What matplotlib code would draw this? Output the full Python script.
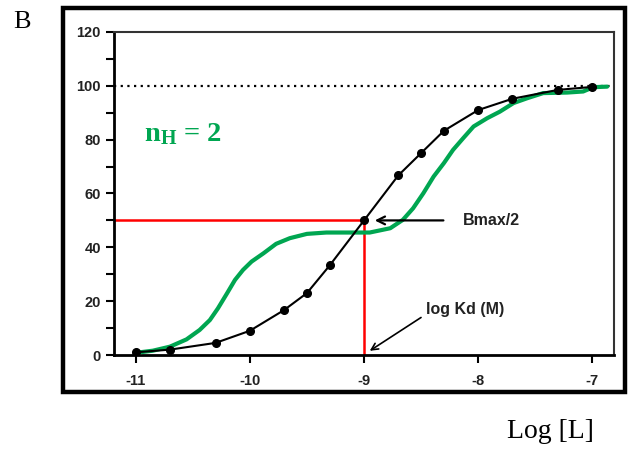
import numpy as np
import matplotlib.pyplot as plt
from matplotlib.patches import Rectangle
from matplotlib.ticker import MultipleLocator

plt.rcParams["mathtext.fontset"] = "custom"
plt.rcParams["mathtext.rm"] = "Liberation Serif:bold"
plt.rcParams["mathtext.bf"] = "Liberation Serif:bold"
plt.rcParams["mathtext.it"] = "Liberation Serif:bold"

# one-site binding curve (black points)
log_l = [-11, -10.7, -10.3, -10, -9.7, -9.5, -9.3, -9, -8.7, -8.5, -8.3, -8, -7.7, -7.3, -7]
bound = [1, 2, 4.5, 9, 16.7, 23, 33.3, 50, 66.7, 75, 83.3, 91, 95.2, 98.5, 99.6]

# two-step curve (nH = 2)
green_x = [-11, -10.965, -10.85, -10.70, -10.555, -10.44, -10.35, -10.28, -10.20, -10.13,
           -10.06, -9.985, -9.88, -9.77, -9.65, -9.50, -9.33, -9.21, -8.95, -8.77, -8.66,
           -8.57, -8.48, -8.39, -8.30, -8.22, -8.13, -8.04, -7.92, -7.81, -7.69, -7.57,
           -7.43, -7.22, -7.08, -6.99, -6.87]
green_y = [0.9, 1.0, 1.6, 3.1, 5.8, 9.3, 13.0, 17.3, 22.9, 27.9,
           31.6, 34.7, 37.8, 41.3, 43.4, 45.0, 45.5, 45.5, 45.5, 47.1, 50.2,
           54.5, 60.1, 66.3, 71.3, 76.2, 80.6, 84.9, 88.0, 90.4, 93.6, 95.4,
           97.3, 97.5, 97.9, 99.5, 99.7]

kd = -9
half = 50
bmax = 100

fig = plt.figure(figsize=(6.32, 4.5), dpi=100)
ax = fig.add_axes([0.1804, 0.2111, 0.7911, 0.7178])

ax.plot(green_x, green_y, color="#00a651", lw=3.0, zorder=3,
        solid_capstyle="round", solid_joinstyle="round")
ax.plot(log_l, bound, color="black", lw=1.5, marker="o", ms=5.5, zorder=4)

ax.axhline(bmax, color="black", ls=(0, (1, 2)), lw=1.6, zorder=2)
ax.plot([-11.2, kd], [half, half], color="red", lw=1.8, zorder=2)
ax.plot([kd, kd], [0, half], color="red", lw=1.8, zorder=2)

ax.set_xlim(-11.19, -6.81)
ax.set_ylim(0, 120)
ax.set_xticks([-11, -10, -9, -8, -7])
ax.set_xticklabels(["-11", "-10", "-9", "-8", "-7"])
ax.yaxis.set_major_locator(MultipleLocator(20))
ax.yaxis.set_minor_locator(MultipleLocator(10))
ax.tick_params(which="both", direction="out", length=6, width=1.5, color="black")
ax.tick_params(axis="x", pad=8)
for lbl in ax.get_xticklabels() + ax.get_yticklabels():
    lbl.set_fontfamily("Liberation Sans")
    lbl.set_fontweight("bold")
    lbl.set_fontsize(10.5)
    lbl.set_color("#222222")

for side in ["left", "bottom"]:
    ax.spines[side].set_linewidth(2)
for side in ["top", "right"]:
    ax.spines[side].set_linewidth(1.5)
    ax.spines[side].set_color("#333333")

ax.annotate("", xy=(kd + 0.07, half), xytext=(-8.28, half),
            arrowprops=dict(arrowstyle="->", color="black", lw=1.6, mutation_scale=14))
ax.text(-8.13, half, "Bmax/2", fontsize=11.5, fontweight="bold", family="Liberation Sans",
        va="center", ha="left", color="#222222")

ax.annotate("", xy=(kd + 0.03, 1), xytext=(-8.48, 14.5),
            arrowprops=dict(arrowstyle="->", color="black", lw=1.2, mutation_scale=12))
ax.text(-8.46, 16.9, "log Kd (M)", fontsize=11.5, fontweight="bold", family="Liberation Sans",
        va="center", ha="left", color="#222222")

ax.text(-10.93, 82, r"$\mathbf{n_H}$ = 2", fontsize=20.5, fontweight="bold",
        family="Liberation Serif", color="#00a651", va="center", ha="left")

fig.patches.append(Rectangle((0.0997, 0.129), 0.889, 0.853, transform=fig.transFigure,
                             fill=False, lw=3.2, edgecolor="black"))

fig.text(22 / 632, 1 - 22 / 450, "B", fontsize=19, family="Liberation Serif",
         va="center", ha="center")
fig.text(550 / 632, 1 - 432 / 450, "Log [L]", fontsize=20, family="Liberation Serif",
         va="center", ha="center")

fig.savefig("out.png", dpi=100)
